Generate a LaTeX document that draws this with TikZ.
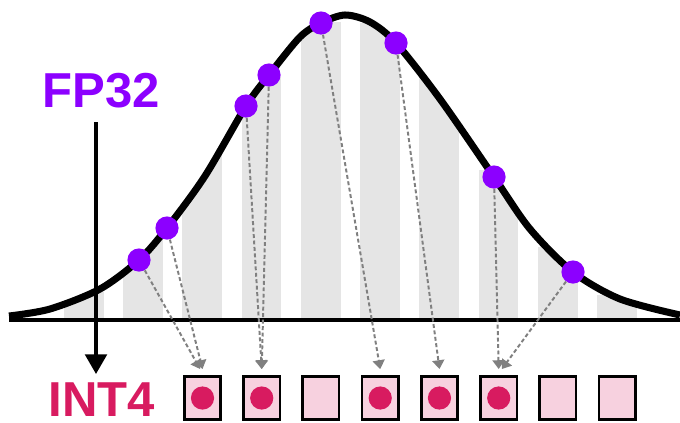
\documentclass[tikz,border=0pt]{standalone}
\usepackage{fontspec}
\setmainfont{Liberation Sans}
\usetikzlibrary{arrows.meta}
\definecolor{fpviolet}{RGB}{140,0,255}
\definecolor{intred}{RGB}{216,27,96}
\definecolor{binpink}{RGB}{247,209,223}
\definecolor{bargray}{RGB}{229,229,229}
\begin{document}
\begin{tikzpicture}[
  bell/.style={insert path={plot[smooth] coordinates {(0.225,2.65) (1.25,2.825) (2.5,3.325) (3.475,4.05) (4.175,4.85) (5.125,6.15) (6.15,7.9) (6.725,8.675) (7.5,9.625) (8.025,9.975) (8.625,10.175) (9.25,10.0) (9.9,9.475) (11.0,8.075) (12.35,6.125) (13.25,4.825) (14.325,3.75) (15.5,3.075) (17.0,2.675)}}},
  fpdot/.style={circle, fill=fpviolet, inner sep=0pt, minimum size=0.58cm},
  qdot/.style={circle, fill=intred, inner sep=0pt, minimum size=0.58cm},
  bin/.style={draw=black, line width=1.9pt, fill=binpink, inner sep=0pt, minimum width=0.9075cm, minimum height=1.0825cm},
  maparrow/.style={draw=gray, line width=1.4pt, dash pattern=on 2.8pt off 1.8pt, -{Triangle[width=0.3cm,length=0.22cm]}},
  bigtext/.style={font=\bfseries\fontsize{34.9}{40}\selectfont, anchor=base, inner sep=0pt}
]
\useasboundingbox (0,0) rectangle (17,10.55);

% bins under the curve
\begin{scope}
\clip[bell] -- (17,2.55) -- (0.225,2.55) -- cycle;
\foreach \i/\t in {0/3.25,1/4.625,2/6.675,3/8.625,4/10.0,5/9.975,6/8.625,7/6.3,8/4.375,9/3.175}
  \fill[bargray] ({1.6+1.481*\i},2.55) rectangle ({2.59+1.481*\i},\t);
\end{scope}

\draw[line width=2.4pt] (0.225,2.55) -- (17,2.55);
\draw[line width=5pt, bell];

\node[bigtext, text=fpviolet] (fp) at (2.525,7.875) {FP32};
\node[bigtext, text=intred] (int) at (2.54,0.13) {INT4};
\coordinate (fpstart) at (2.4,7.5);
\coordinate (fpend) at (2.4,1.2);
\draw[line width=2.4pt, -{Triangle[width=0.54cm,length=0.49cm]}] (fpstart) -- (fpend);

\foreach \k in {1,...,8}
  \node[bin] (b\k) at ({5.0625+1.481*(\k-1)},0.6) {};
\foreach \k in {1,2,4,5,6}
  \node[qdot] (q\k) at (b\k) {};

\foreach \x/\y [count=\i] in {3.475/4.05, 4.175/4.85, 6.15/7.9, 6.725/8.675, 8.025/9.975, 9.9/9.475, 12.35/6.125, 14.325/3.75}
  \node[fpdot] (p\i) at (\x,\y) {};

\foreach \i/\k/\dx in {1/1/-0.06, 2/1/0, 3/2/0, 4/2/0, 5/4/0, 6/5/0, 7/6/0, 8/6/0.08}
  \draw[maparrow] (p\i) -- ([shift={(\dx,0.15)}]b\k.north);
\end{tikzpicture}
\end{document}
